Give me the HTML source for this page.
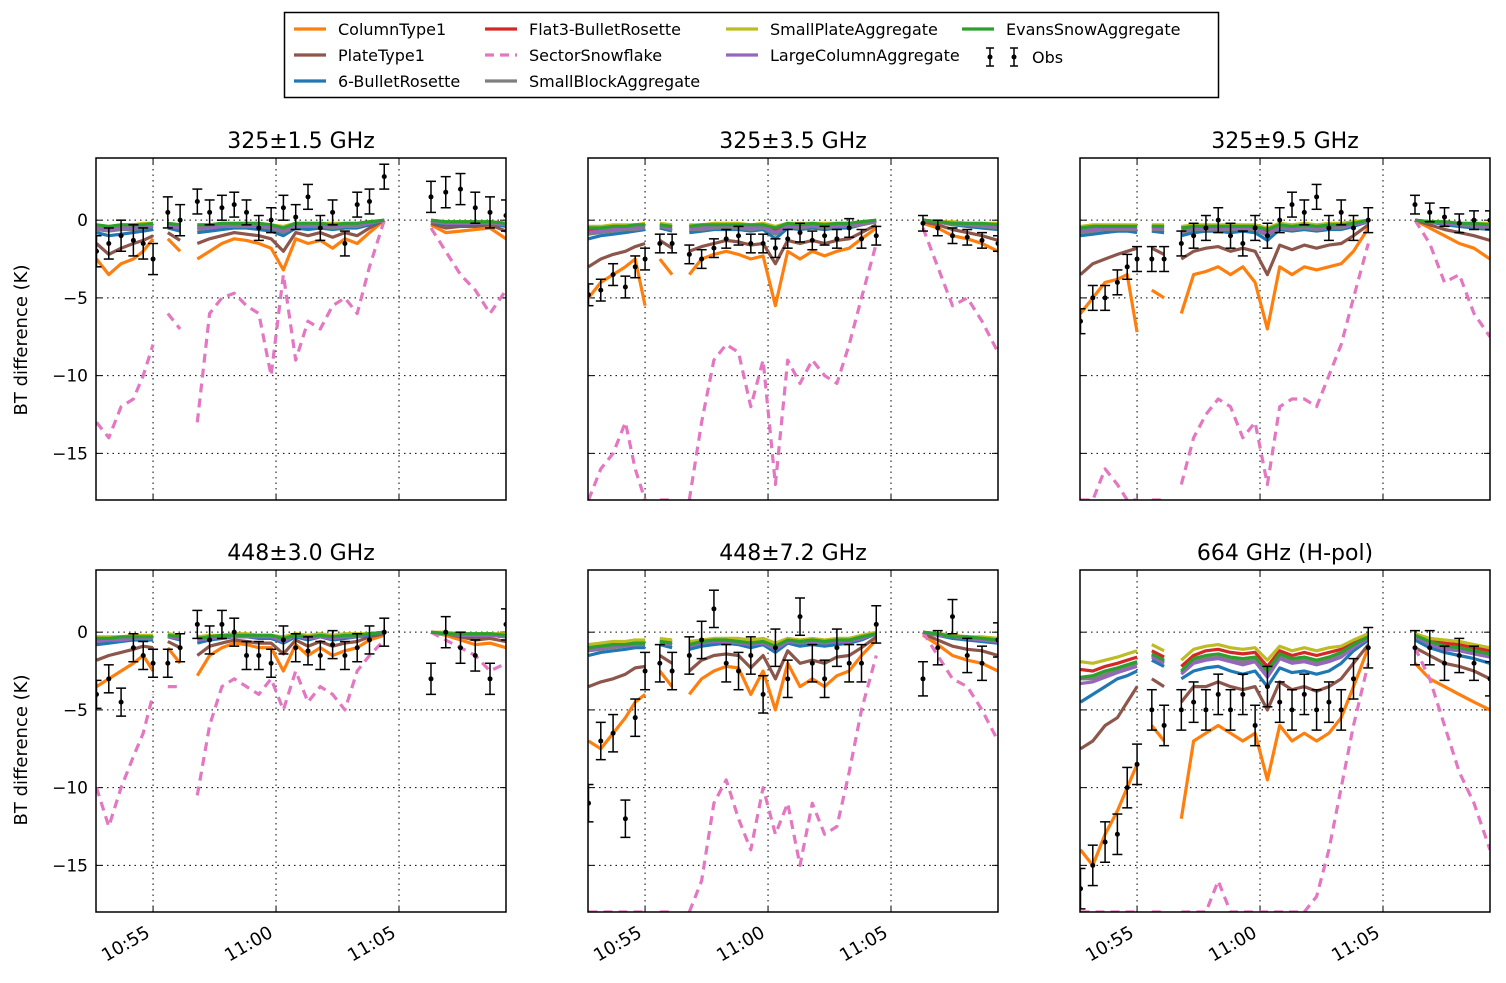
<!DOCTYPE html>
<html><head><meta charset="utf-8"><style>
body{margin:0;background:#fff;}
svg text{font-family:"DejaVu Sans","Liberation Sans",sans-serif;}
</style></head><body>
<svg id="fig" width="1506" height="978" viewBox="0 0 1506 978" xmlns="http://www.w3.org/2000/svg">
<rect x="0" y="0" width="1506" height="978" fill="#fff"/>
<g id="legend">
<rect x="284.5" y="12.5" width="934" height="85" fill="#fff" stroke="#000" stroke-width="1.5"/>
</g>
<text x="27" y="340" font-size="18" text-anchor="middle" transform="rotate(-90 27 340)">BT difference (K)</text>
<text x="27" y="750" font-size="18" text-anchor="middle" transform="rotate(-90 27 750)">BT difference (K)</text>
</svg>
<script>
const T=[2.7,3.2,3.7,4.2,4.6,5.0,null,5.6,6.1,null,6.8,7.3,7.8,8.3,8.8,9.3,9.8,10.3,10.8,11.3,11.8,12.3,12.8,13.3,13.8,14.4,null,16.3,16.9,17.5,18.1,18.7,19.35];
const titles=["325±1.5 GHz","325±3.5 GHz","325±9.5 GHz","448±3.0 GHz","448±7.2 GHz","664 GHz (H-pol)"];
const yTicks=[0,-5,-10,-15];
const xTicks=[5,10,15];
const xTickLabels=["10:55","11:00","11:05"];
const seriesNames=["ColumnType1","PlateType1","6-BulletRosette","Flat3-BulletRosette","SectorSnowflake","SmallBlockAggregate","SmallPlateAggregate","LargeColumnAggregate","EvansSnowAggregate"];
const seriesColors=["#ff7f0e","#8c564b","#1f77b4","#d62728","#e377c2","#7f7f7f","#bcbd22","#9467bd","#2ca02c"];
const n=null;
// panel 1
const p1orange=[-2.5,-3.5,-2.8,-2.5,-2,-1.2,n,-1.2,-2,n,-2.5,-2,-1.5,-1.2,-1.3,-1.5,-1.8,-3.2,-1.2,-1.5,-1.3,-1.8,-1.2,-1.5,-0.8,0,n,-0.3,-0.8,-0.7,-0.6,-0.5,-1.2];
const p1brown=[-1.5,-2.2,-1.8,-1.5,-1.3,-1,n,-0.8,-1.3,n,-1.5,-1.2,-1,-0.8,-0.9,-1,-1.2,-2,-0.8,-1,-0.8,-1.1,-0.8,-1,-0.5,0,n,-0.2,-0.5,-0.4,-0.4,-0.3,-0.7];
const p1blue=[-0.8,-1,-0.9,-0.8,-0.7,-0.6,n,-0.5,-0.7,n,-0.8,-0.7,-0.6,-0.5,-0.5,-0.6,-0.7,-1,-0.5,-0.6,-0.5,-0.6,-0.5,-0.5,-0.3,0,n,-0.1,-0.3,-0.3,-0.3,-0.2,-0.4];
const p1red=[-0.4,-0.5,-0.4,-0.4,-0.3,-0.3,n,-0.3,-0.4,n,-0.4,-0.4,-0.3,-0.3,-0.3,-0.3,-0.4,-0.6,-0.3,-0.3,-0.3,-0.3,-0.3,-0.3,-0.2,0,n,0,-0.2,-0.2,-0.2,-0.1,-0.2];
const p1pink=[-13,-14,-12,-11.5,-10,-8,n,-6,-7,n,-13,-6,-5,-4.7,-5.5,-6,-10,-3.5,-9,-6.5,-7,-5.5,-5,-6,-3,0,n,-0.5,-2,-3.5,-4.5,-6,-4.5];
const p1gray=[-0.6,-0.7,-0.6,-0.6,-0.5,-0.4,n,-0.4,-0.5,n,-0.6,-0.5,-0.4,-0.4,-0.4,-0.4,-0.5,-0.8,-0.4,-0.4,-0.4,-0.5,-0.4,-0.4,-0.2,0,n,-0.1,-0.2,-0.2,-0.2,-0.2,-0.3];
const p1olive=[-0.3,-0.4,-0.3,-0.3,-0.2,-0.2,n,-0.2,-0.3,n,-0.3,-0.3,-0.2,-0.2,-0.2,-0.2,-0.3,-0.4,-0.2,-0.2,-0.2,-0.2,-0.2,-0.2,-0.1,0,n,0,-0.1,-0.1,-0.1,-0.1,-0.2];
const p1purple=[-0.5,-0.6,-0.5,-0.5,-0.4,-0.4,n,-0.3,-0.5,n,-0.5,-0.5,-0.4,-0.3,-0.3,-0.4,-0.4,-0.7,-0.3,-0.4,-0.3,-0.4,-0.3,-0.3,-0.2,0,n,0,-0.2,-0.2,-0.2,-0.1,-0.3];
const p1green=[-0.3,-0.4,-0.3,-0.3,-0.3,-0.2,n,-0.2,-0.3,n,-0.3,-0.3,-0.2,-0.2,-0.2,-0.2,-0.3,-0.5,-0.2,-0.2,-0.2,-0.3,-0.2,-0.2,-0.1,0,n,0,-0.1,-0.1,-0.1,-0.1,-0.2];
const p1obs=[-2,-1.5,-1,-1.3,-1.5,-2.5,n,0.5,0,n,1.2,0.5,0.8,1,0.5,-0.5,0,0.8,0.2,1.5,-0.5,0.5,-1.5,1,1.2,2.8,n,1.5,1.8,2,0.8,0.5,0.3];
const p1err=[1,1,1,1,1,1,n,1,1,n,0.8,0.8,0.8,0.8,0.8,0.8,0.8,0.8,0.8,0.8,0.8,0.8,0.8,0.8,0.8,0.8,n,1,1,1,1,1,1];
// panel 2
const p2orange=[-5,-4,-3.5,-3,-2.5,-5.5,n,-2.5,-3.5,n,-3.5,-2.5,-2.2,-2,-2.2,-2.5,-2.3,-5.5,-2,-2.5,-2,-2.3,-2,-1.8,-1.2,-0.5,n,-0.2,-0.5,-1,-1.2,-1.5,-2];
const p2brown=[-3,-2.5,-2.2,-2,-1.7,-1.5,n,-1.3,-1.8,n,-2,-1.7,-1.5,-1.3,-1.4,-1.6,-1.5,-2.8,-1.3,-1.5,-1.3,-1.5,-1.3,-1.2,-0.8,-0.3,n,-0.1,-0.3,-0.6,-0.8,-1,-1.3];
const p2blue=[-1.2,-1,-0.9,-0.8,-0.7,-0.6,n,-0.5,-0.7,n,-0.8,-0.7,-0.6,-0.6,-0.6,-0.7,-0.6,-1.2,-0.5,-0.6,-0.5,-0.6,-0.5,-0.5,-0.3,-0.1,n,0,-0.1,-0.3,-0.4,-0.5,-0.6];
const p2red=[-0.6,-0.5,-0.5,-0.4,-0.4,-0.3,n,-0.3,-0.4,n,-0.4,-0.4,-0.3,-0.3,-0.3,-0.4,-0.3,-0.6,-0.3,-0.3,-0.3,-0.3,-0.3,-0.3,-0.2,0,n,0,-0.1,-0.2,-0.2,-0.3,-0.3];
const p2pink=[-18,-16,-15,-13,-16,-18,n,-18,-18,n,-18,-13,-9,-8,-8.5,-12,-9,-17,-9,-10.5,-9,-10,-10.5,-8,-5,-1.5,n,-0.5,-3,-5.5,-5,-6.5,-8.5];
const p2gray=[-0.9,-0.8,-0.7,-0.6,-0.6,-0.5,n,-0.4,-0.6,n,-0.6,-0.6,-0.5,-0.5,-0.5,-0.6,-0.5,-0.9,-0.4,-0.5,-0.4,-0.5,-0.4,-0.4,-0.3,-0.1,n,0,-0.1,-0.3,-0.3,-0.4,-0.5];
const p2olive=[-0.4,-0.4,-0.3,-0.3,-0.3,-0.2,n,-0.2,-0.3,n,-0.3,-0.3,-0.2,-0.2,-0.2,-0.3,-0.2,-0.4,-0.2,-0.2,-0.2,-0.2,-0.2,-0.2,-0.1,0,n,0,-0.1,-0.1,-0.2,-0.2,-0.2];
const p2purple=[-0.8,-0.7,-0.6,-0.5,-0.5,-0.4,n,-0.4,-0.5,n,-0.5,-0.5,-0.4,-0.4,-0.4,-0.5,-0.4,-0.8,-0.4,-0.4,-0.4,-0.4,-0.4,-0.3,-0.2,-0.1,n,0,-0.1,-0.2,-0.3,-0.3,-0.4];
const p2green=[-0.5,-0.5,-0.4,-0.4,-0.3,-0.3,n,-0.3,-0.4,n,-0.4,-0.3,-0.3,-0.3,-0.3,-0.3,-0.3,-0.5,-0.2,-0.3,-0.2,-0.3,-0.2,-0.2,-0.1,0,n,0,-0.1,-0.2,-0.2,-0.2,-0.3];
const p2obs=[-4.8,-4.5,-3.5,-4.3,-3,-2.5,n,-1.5,-1.5,n,-2.2,-2.5,-1.8,-1.2,-1,-1.5,-1.5,-1.8,-1.2,-0.8,-1.3,-1,-1.2,-0.5,-1.2,-1,n,-0.2,-0.5,-1,-1.1,-1.3,-1.5];
const p2err=[0.7,0.7,0.7,0.7,0.7,0.7,n,0.6,0.6,n,0.6,0.6,0.6,0.6,0.6,0.6,0.6,0.6,0.6,0.6,0.6,0.6,0.6,0.6,0.6,0.6,n,0.5,0.5,0.5,0.5,0.5,0.5];
// panel 3
const p3orange=[-6,-5,-4,-3.8,-3.5,-7.2,n,-4.5,-5,n,-6,-3.5,-3.3,-3,-3.5,-3,-4,-7,-3,-3.5,-3,-3.2,-3,-2.8,-2,-0.5,n,0,-0.5,-1,-1.5,-1.8,-2.5];
const p3brown=[-3.5,-2.8,-2.5,-2.2,-2,-1.8,n,-1.8,-2.2,n,-2.5,-2,-1.8,-1.7,-2,-1.8,-2,-3.5,-1.6,-1.9,-1.6,-1.8,-1.6,-1.5,-1,-0.3,n,0,-0.3,-0.6,-0.8,-1,-1.3];
const p3blue=[-1,-0.9,-0.8,-0.7,-0.7,-0.8,n,-0.7,-0.8,n,-1,-0.8,-0.7,-0.7,-0.8,-0.7,-0.8,-1.3,-0.6,-0.7,-0.6,-0.7,-0.6,-0.6,-0.4,-0.1,n,0,-0.1,-0.3,-0.4,-0.5,-0.6];
const p3red=[-0.5,-0.5,-0.4,-0.4,-0.4,-0.4,n,-0.4,-0.4,n,-0.5,-0.4,-0.4,-0.4,-0.4,-0.4,-0.4,-0.7,-0.3,-0.4,-0.3,-0.4,-0.3,-0.3,-0.2,0,n,0,-0.1,-0.2,-0.2,-0.3,-0.3];
const p3pink=[-18,-18,-16,-17,-18,-18,n,-18,-18,n,-17,-14,-12.5,-11.5,-12,-14,-13,-17,-12,-11.5,-11.5,-12,-10,-8,-5,-1.5,n,0,-1.5,-4,-3.5,-6,-7.5];
const p3gray=[-0.8,-0.7,-0.6,-0.6,-0.6,-0.6,n,-0.6,-0.6,n,-0.8,-0.6,-0.6,-0.6,-0.6,-0.6,-0.6,-1,-0.5,-0.6,-0.5,-0.6,-0.5,-0.5,-0.3,-0.1,n,0,-0.1,-0.2,-0.3,-0.4,-0.5];
const p3olive=[-0.4,-0.3,-0.3,-0.3,-0.3,-0.3,n,-0.3,-0.3,n,-0.4,-0.3,-0.3,-0.3,-0.3,-0.3,-0.3,-0.5,-0.2,-0.3,-0.2,-0.3,-0.2,-0.2,-0.1,0,n,0,-0.1,-0.1,-0.2,-0.2,-0.2];
const p3purple=[-0.7,-0.6,-0.5,-0.5,-0.5,-0.5,n,-0.5,-0.5,n,-0.7,-0.5,-0.5,-0.5,-0.5,-0.5,-0.5,-0.9,-0.4,-0.5,-0.4,-0.5,-0.4,-0.4,-0.3,-0.1,n,0,-0.1,-0.2,-0.3,-0.3,-0.4];
const p3green=[-0.5,-0.4,-0.4,-0.4,-0.4,-0.4,n,-0.4,-0.4,n,-0.5,-0.4,-0.4,-0.4,-0.4,-0.4,-0.4,-0.6,-0.3,-0.4,-0.3,-0.4,-0.3,-0.3,-0.2,0,n,0,-0.1,-0.1,-0.2,-0.2,-0.3];
const p3obs=[-6.5,-5,-5,-4,-3,-2.5,n,-2.5,-2.5,n,-1.5,-1,-0.5,0,-1,-1.5,-0.5,-1,0,1,0.5,1.5,-0.5,0.5,-0.5,0,n,1,0.5,0.2,-0.2,0,0];
const p3err=[0.8,0.8,0.8,0.8,0.8,0.8,n,0.8,0.8,n,0.8,0.8,0.8,0.8,0.8,0.8,0.8,0.8,0.8,0.8,0.8,0.8,0.8,0.8,0.8,0.8,n,0.6,0.6,0.6,0.6,0.6,0.6];
// panel 4
const p4orange=[-3.5,-3,-2.5,-2,-1.5,-2.5,n,-1,-2,n,-2.8,-1.5,-1,-0.7,-0.8,-1,-1,-2.5,-0.8,-1.5,-1,-1.5,-1.2,-1,-0.5,-0.2,n,0,-0.2,-0.5,-0.8,-0.7,-1];
const p4brown=[-1.8,-1.5,-1.3,-1.1,-0.9,-1,n,-0.6,-1,n,-1.5,-0.9,-0.7,-0.5,-0.6,-0.7,-0.7,-1.4,-0.5,-0.9,-0.6,-0.9,-0.7,-0.6,-0.3,-0.1,n,0,-0.1,-0.3,-0.5,-0.4,-0.6];
const p4blue=[-0.8,-0.7,-0.6,-0.5,-0.5,-0.5,n,-0.3,-0.5,n,-0.7,-0.5,-0.4,-0.3,-0.3,-0.4,-0.4,-0.7,-0.3,-0.5,-0.3,-0.5,-0.4,-0.3,-0.2,0,n,0,-0.1,-0.2,-0.3,-0.2,-0.3];
const p4red=[-0.5,-0.4,-0.4,-0.3,-0.3,-0.3,n,-0.2,-0.3,n,-0.4,-0.3,-0.2,-0.2,-0.2,-0.2,-0.2,-0.4,-0.2,-0.3,-0.2,-0.3,-0.2,-0.2,-0.1,0,n,0,-0.1,-0.1,-0.2,-0.1,-0.2];
const p4pink=[-10,-12.5,-10,-8,-6.5,-4,n,-3.5,-3.5,n,-10.5,-6,-3.5,-3,-3.5,-4,-3,-5,-2.5,-4.5,-3.5,-4,-5,-2.5,-1.5,-0.5,n,0,-0.5,-1,-1.5,-2.5,-2];
const p4gray=[-0.6,-0.5,-0.5,-0.4,-0.4,-0.4,n,-0.3,-0.4,n,-0.5,-0.4,-0.3,-0.3,-0.3,-0.3,-0.3,-0.5,-0.2,-0.4,-0.3,-0.4,-0.3,-0.3,-0.1,0,n,0,-0.1,-0.2,-0.2,-0.2,-0.3];
const p4olive=[-0.3,-0.3,-0.3,-0.2,-0.2,-0.2,n,-0.1,-0.2,n,-0.3,-0.2,-0.2,-0.1,-0.1,-0.2,-0.2,-0.3,-0.1,-0.2,-0.1,-0.2,-0.1,-0.1,-0.1,0,n,0,0,-0.1,-0.1,-0.1,-0.1];
const p4purple=[-0.6,-0.5,-0.5,-0.4,-0.4,-0.4,n,-0.3,-0.4,n,-0.5,-0.4,-0.3,-0.3,-0.3,-0.3,-0.3,-0.6,-0.2,-0.4,-0.3,-0.4,-0.3,-0.3,-0.1,0,n,0,-0.1,-0.2,-0.2,-0.2,-0.3];
const p4green=[-0.4,-0.4,-0.3,-0.3,-0.3,-0.3,n,-0.2,-0.3,n,-0.4,-0.3,-0.2,-0.2,-0.2,-0.2,-0.2,-0.4,-0.2,-0.3,-0.2,-0.3,-0.2,-0.2,-0.1,0,n,0,-0.1,-0.1,-0.1,-0.1,-0.2];
const p4obs=[-4,-3,-4.5,-1,-1.5,-2,n,-2,-1,n,0.5,-0.5,0.5,0,-1.5,-1.5,-2,-0.5,-1,-1.2,-1.5,-0.8,-1.5,-1,-0.5,0,n,-3,0,-1,-1.5,-3,0.5];
const p4err=[0.9,0.9,0.9,0.9,0.9,0.9,n,0.9,0.9,n,0.9,0.9,0.9,0.9,0.9,0.9,0.9,0.9,0.9,0.9,0.9,0.9,0.9,0.9,0.9,0.9,n,1,1,1,1,1,1];
// panel 5
const p5orange=[-7,-7.5,-6.5,-5.5,-4.5,-4,n,-2.5,-3.5,n,-4,-3,-2.5,-2.2,-2.3,-4,-2.5,-5,-2,-3.5,-3,-3.5,-2.8,-2.5,-1.5,-0.5,n,-0.2,-0.8,-1.5,-1.8,-2,-2.5];
const p5brown=[-3.5,-3.2,-3,-2.7,-2.3,-2.2,n,-1.5,-2,n,-2.5,-1.8,-1.5,-1.4,-1.5,-2.3,-1.5,-3,-1.2,-2,-1.8,-2,-1.6,-1.5,-1,-0.3,n,-0.1,-0.5,-0.9,-1.1,-1.2,-1.5];
const p5blue=[-1.5,-1.3,-1.2,-1.1,-1,-1,n,-0.8,-1,n,-1.1,-0.9,-0.8,-0.7,-0.8,-1,-0.8,-1.3,-0.7,-0.9,-0.8,-0.9,-0.8,-0.7,-0.5,-0.1,n,0,-0.2,-0.4,-0.5,-0.6,-0.7];
const p5red=[-0.9,-0.8,-0.7,-0.7,-0.6,-0.6,n,-0.5,-0.6,n,-0.7,-0.6,-0.5,-0.4,-0.5,-0.6,-0.5,-0.8,-0.4,-0.6,-0.5,-0.6,-0.5,-0.4,-0.3,-0.1,n,0,-0.1,-0.2,-0.3,-0.4,-0.4];
const p5pink=[-18,-18,-18,-18,-18,-18,n,-18,-18,n,-18,-16,-11,-9.5,-12,-14,-10,-13,-11,-15,-11,-13,-12.5,-9,-5,-1.5,n,0,-1.5,-3,-3.5,-5,-7];
const p5gray=[-1.2,-1.1,-1,-0.9,-0.8,-0.8,n,-0.6,-0.8,n,-0.9,-0.7,-0.6,-0.6,-0.6,-0.8,-0.6,-1.1,-0.6,-0.7,-0.6,-0.7,-0.6,-0.6,-0.4,-0.1,n,0,-0.2,-0.3,-0.4,-0.5,-0.6];
const p5olive=[-0.8,-0.7,-0.6,-0.6,-0.5,-0.5,n,-0.4,-0.5,n,-0.6,-0.5,-0.4,-0.4,-0.4,-0.5,-0.4,-0.7,-0.4,-0.5,-0.4,-0.5,-0.4,-0.4,-0.2,0,n,0,-0.1,-0.2,-0.3,-0.3,-0.4];
const p5purple=[-1.2,-1,-0.9,-0.9,-0.8,-0.8,n,-0.7,-0.8,n,-0.9,-0.7,-0.6,-0.6,-0.7,-0.8,-0.7,-1.1,-0.6,-0.7,-0.6,-0.7,-0.6,-0.6,-0.4,-0.1,n,0,-0.2,-0.3,-0.4,-0.5,-0.6];
const p5green=[-1,-0.9,-0.8,-0.8,-0.7,-0.7,n,-0.6,-0.7,n,-0.8,-0.6,-0.5,-0.5,-0.6,-0.7,-0.6,-0.9,-0.5,-0.6,-0.5,-0.6,-0.5,-0.5,-0.3,-0.1,n,0,-0.1,-0.3,-0.3,-0.4,-0.5];
const p5obs=[-11,-7,-6.5,-12,-5.5,-2.5,n,-2,-2.5,n,-1.5,-0.5,1.5,-2,-2.5,-1.5,-4,-1,-3,1,-2,-3,-1,-2,-2,0.5,n,-3,-1,1,-1.5,-2,-0.5];
const p5err=[1.2,1.2,1.2,1.2,1.2,1.2,n,1.2,1.2,n,1.2,1.2,1.2,1.2,1.2,1.2,1.2,1.2,1.2,1.2,1.2,1.2,1.2,1.2,1.2,1.2,n,1.1,1.1,1.1,1.1,1.1,1.1];
// panel 6
const p6orange=[-14,-15,-13,-11.5,-10,-8.5,n,-6,-7,n,-12,-7,-6.5,-6,-6.5,-7,-6.5,-9.5,-6,-7,-6.5,-7,-6.5,-5.5,-3.5,-1,n,-2,-3,-3.5,-4,-4.5,-5];
const p6brown=[-7.5,-7,-6,-5.5,-4.5,-3.5,n,-3,-3.5,n,-4.5,-3.5,-3.5,-3.2,-3.5,-3.7,-3.5,-5,-3.2,-3.7,-3.5,-3.8,-3.5,-3,-2,-0.8,n,-1,-1.5,-2,-2.2,-2.5,-3];
const p6blue=[-4.5,-4,-3.5,-3,-2.8,-2.5,n,-1.8,-2.2,n,-3,-2.5,-2.3,-2.2,-2.5,-2.7,-2.5,-3.5,-2.3,-2.6,-2.5,-2.7,-2.5,-2,-1.2,-0.5,n,-0.5,-1,-1.3,-1.5,-1.7,-2];
const p6red=[-2.4,-2.5,-2.2,-2,-1.8,-1.6,n,-1.2,-1.6,n,-2.2,-1.5,-1.2,-1.1,-1.3,-1.4,-1.3,-2.2,-1.2,-1.5,-1.3,-1.5,-1.3,-1.1,-0.6,-0.2,n,-0.2,-0.5,-0.7,-0.8,-1,-1.2];
const p6pink=[-18,-18,-18,-18,-18,-18,n,-18,-18,n,-18,-18,-18,-16,-18,-18,-18,-18,-18,-18,-18,-17,-14,-10,-6,-2,n,-1,-3,-6,-9,-11,-14];
const p6gray=[-3,-3,-2.7,-2.4,-2.2,-2,n,-1.5,-1.9,n,-2.6,-1.9,-1.7,-1.6,-1.8,-1.9,-1.8,-2.8,-1.6,-1.9,-1.8,-2,-1.8,-1.5,-0.9,-0.3,n,-0.3,-0.7,-1,-1.1,-1.3,-1.5];
const p6olive=[-1.9,-2,-1.8,-1.6,-1.4,-1.2,n,-0.8,-1.2,n,-1.8,-1.1,-0.9,-0.8,-1,-1.1,-1,-1.8,-0.9,-1.2,-1,-1.2,-1,-0.9,-0.5,-0.1,n,-0.1,-0.4,-0.5,-0.6,-0.8,-1];
const p6purple=[-3.3,-3.2,-2.9,-2.6,-2.4,-2.2,n,-1.6,-2,n,-2.7,-2,-1.8,-1.7,-1.9,-2.1,-1.9,-2.9,-1.7,-2,-1.9,-2.1,-1.9,-1.6,-1,-0.4,n,-0.3,-0.8,-1.1,-1.2,-1.4,-1.6];
const p6green=[-2.9,-2.8,-2.5,-2.3,-2.1,-1.9,n,-1.4,-1.8,n,-2.5,-1.7,-1.5,-1.4,-1.6,-1.7,-1.6,-2.5,-1.4,-1.7,-1.6,-1.8,-1.6,-1.3,-0.8,-0.3,n,-0.2,-0.6,-0.9,-1,-1.2,-1.4];
const p6obs=[-16.5,-15,-13.5,-13,-10,-8.5,n,-5,-6,n,-5,-4.5,-5,-4,-5,-4,-6,-3.5,-4.5,-5,-4,-5,-4.5,-5,-3,-1,n,-1,-1,-2,-1.5,-2,-3];
const p6err=[1.3,1.3,1.3,1.3,1.3,1.3,n,1.3,1.3,n,1.3,1.3,1.3,1.3,1.3,1.3,1.3,1.3,1.3,1.3,1.3,1.3,1.3,1.3,1.3,1.3,n,1.1,1.1,1.1,1.1,1.1,1.1];

const panels=[
 {s:[p1orange,p1brown,p1blue,p1red,p1pink,p1gray,p1olive,p1purple,p1green],o:p1obs,e:p1err},
 {s:[p2orange,p2brown,p2blue,p2red,p2pink,p2gray,p2olive,p2purple,p2green],o:p2obs,e:p2err},
 {s:[p3orange,p3brown,p3blue,p3red,p3pink,p3gray,p3olive,p3purple,p3green],o:p3obs,e:p3err},
 {s:[p4orange,p4brown,p4blue,p4red,p4pink,p4gray,p4olive,p4purple,p4green],o:p4obs,e:p4err},
 {s:[p5orange,p5brown,p5blue,p5red,p5pink,p5gray,p5olive,p5purple,p5green],o:p5obs,e:p5err},
 {s:[p6orange,p6brown,p6blue,p6red,p6pink,p6gray,p6olive,p6purple,p6green],o:p6obs,e:p6err}
];
const NS="http://www.w3.org/2000/svg";
const svg=document.getElementById('fig');
function mk(tag,attrs,parent){const el=document.createElementNS(NS,tag);for(const k in attrs)el.setAttribute(k,attrs[k]);parent.appendChild(el);return el;}
const X0=2.68,X1=19.35,Y0=-18,Y1=4,PW=410,PH=342;
const lefts=[96,588,1080],tops=[158,570];
panels.forEach((p,pi)=>{
 const L=lefts[pi%3],Tp=tops[Math.floor(pi/3)];
 const xs=v=>L+(v-X0)/(X1-X0)*PW;
 const ys=v=>Tp+(Y1-v)/(Y1-Y0)*PH;
 const g=mk('g',{},svg);
 
 
 const cp=mk('clipPath',{id:'clip'+pi},g);
 mk('rect',{x:L,y:Tp,width:PW,height:PH},cp);
 yTicks.forEach(t=>{const l=mk('line',{x1:L,x2:L+PW,y1:ys(t),y2:ys(t),stroke:'#000','stroke-width':1,'stroke-dasharray':'1.5,4'},g);
  
  mk('line',{x1:L,x2:L+6,y1:ys(t),y2:ys(t),stroke:'#000','stroke-width':1},g);
  mk('line',{x1:L+PW-6,x2:L+PW,y1:ys(t),y2:ys(t),stroke:'#000','stroke-width':1},g);
  if(pi%3===0){const tx=mk('text',{x:L-8,y:ys(t)+6,'font-size':17,'text-anchor':'end'},g);tx.textContent=(t<0?'\u2212'+(-t):t);
   }
 });
 xTicks.forEach((t,ti)=>{const l=mk('line',{x1:xs(t),x2:xs(t),y1:Tp,y2:Tp+PH,stroke:'#000','stroke-width':1,'stroke-dasharray':'1.5,4'},g);
  
  mk('line',{x1:xs(t),x2:xs(t),y1:Tp+PH-6,y2:Tp+PH,stroke:'#000','stroke-width':1},g);
  mk('line',{x1:xs(t),x2:xs(t),y1:Tp,y2:Tp+6,stroke:'#000','stroke-width':1},g);
  if(pi>=3){const x=xs(t)-2,y=Tp+PH+24;const tx=mk('text',{x:x,y:y,'font-size':18,'text-anchor':'end',transform:`rotate(-30 ${x} ${y})`},g);tx.textContent=xTickLabels[ti];
   }
 });
 const dg=mk('g',{'clip-path':`url(#clip${pi})`},g);
 p.s.forEach((arr,si)=>{
  let d='',pen=false;
  arr.forEach((v,i)=>{if(T[i]===null||v===null){pen=false;return;}d+=(pen?'L':'M')+xs(T[i]).toFixed(1)+','+ys(v).toFixed(1);pen=true;});
  const a={d:d,fill:'none',stroke:seriesColors[si],'stroke-width':3.2,'stroke-linejoin':'round'};
  if(si===4)a['stroke-dasharray']='9,6';
  const path=mk('path',a,dg);
  
  
 });
 p.o.forEach((v,i)=>{if(T[i]===null||v===null)return;
  const x=xs(T[i]),e=p.e[i];
  const og=mk('g',{stroke:'#000','stroke-width':1.5},dg);
  
  mk('line',{x1:x,x2:x,y1:ys(v+e),y2:ys(v-e)},og);
  mk('line',{x1:x-5,x2:x+5,y1:ys(v+e),y2:ys(v+e)},og);
  mk('line',{x1:x-5,x2:x+5,y1:ys(v-e),y2:ys(v-e)},og);
  mk('circle',{cx:x,cy:ys(v),r:2.5,fill:'#000',stroke:'none'},og);
 });
 const fr=mk('rect',{x:L,y:Tp,width:PW,height:PH,fill:'none',stroke:'#000','stroke-width':1.5},g);
 
 const tt=mk('text',{x:L+PW/2,y:Tp-10,'font-size':22,'text-anchor':'middle'},g);tt.textContent=titles[pi];
 
});
const lg=document.getElementById('legend');
const legPos=[[294,29],[294,55],[294,81],[485,29],[485,55],[485,81],[726,29],[726,55],[962,29]];
seriesNames.forEach((nm,i)=>{
 const [x,y]=legPos[i];
 const eg=mk('g',{},lg);
 
 const a={x1:x,x2:x+32,y1:y,y2:y,stroke:seriesColors[i],'stroke-width':3.2};
 if(i===4)a['stroke-dasharray']='9,6';
 mk('line',a,eg);
 const t=mk('text',{x:x+44,y:y+6,'font-size':16},eg);t.textContent=nm;
});
const og=mk('g',{stroke:'#000','stroke-width':1.5},lg);

[990,1014].forEach(x=>{mk('line',{x1:x,x2:x,y1:48,y2:66},og);mk('line',{x1:x-4,x2:x+4,y1:48,y2:48},og);mk('line',{x1:x-4,x2:x+4,y1:66,y2:66},og);mk('circle',{cx:x,cy:57,r:2.5,fill:'#000',stroke:'none'},og);});
const ot=mk('text',{x:1032,y:63,'font-size':16},lg);ot.textContent='Obs';
</script>
</body></html>
